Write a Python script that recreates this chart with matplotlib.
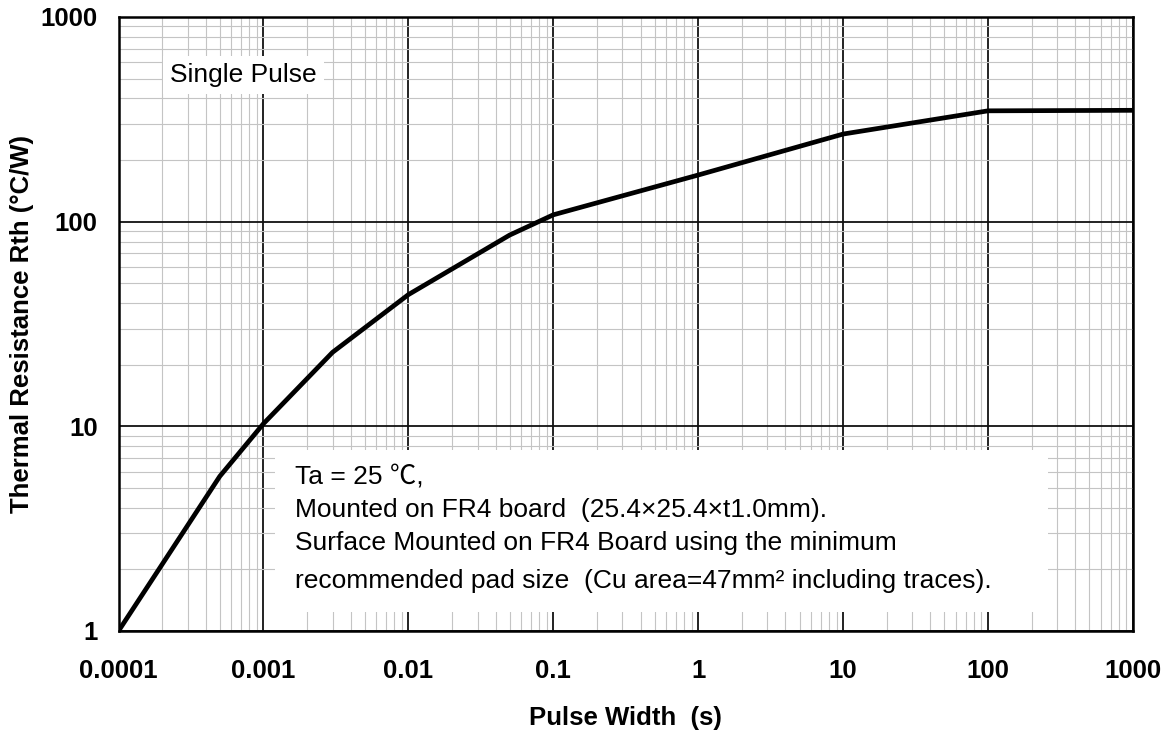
import matplotlib
matplotlib.use("Agg")
import matplotlib.pyplot as plt
from matplotlib.patches import Rectangle
from matplotlib.ticker import LogLocator, NullFormatter

# data
pulse_width = [1e-4, 5e-4, 1e-3, 3e-3, 1e-2, 5e-2, 1e-1, 1.0, 10.0, 100.0, 1000.0]
rth = [1.0, 5.7, 10.3, 23.0, 44.0, 86.0, 108.0, 169.0, 268.0, 348.0, 350.0]

x_ticks = [1e-4, 1e-3, 1e-2, 1e-1, 1, 10, 100, 1000]
x_tick_labels = ["0.0001", "0.001", "0.01", "0.1", "1", "10", "100", "1000"]
y_ticks = [1, 10, 100, 1000]
y_tick_labels = ["1", "10", "100", "1000"]

note_lines = [
    "Ta = 25 \u2103,",
    "Mounted on FR4 board  (25.4\u00d725.4\u00d7t1.0mm).",
    "Surface Mounted on FR4 Board using the minimum",
    "recommended pad size  (Cu area=47mm\u00b2 including traces).",
]

FONT = ["Liberation Sans", "Noto Sans CJK JP", "DejaVu Sans"]
plt.rcParams["font.family"] = FONT

W, H = 1169, 733
fig = plt.figure(figsize=(W / 100, H / 100), dpi=100)
# axes box in pixels: x 118.5..1133, y 17..631
ax = fig.add_axes([118.5 / W, (H - 631) / H, 1014.5 / W, 614 / H])

ax.set_xscale("log")
ax.set_yscale("log")
ax.set_xlim(1e-4, 1e3)
ax.set_ylim(1, 1000)

ax.xaxis.set_minor_locator(LogLocator(base=10, subs=range(2, 10), numticks=20))
ax.yaxis.set_minor_locator(LogLocator(base=10, subs=range(2, 10), numticks=20))
ax.xaxis.set_minor_formatter(NullFormatter())
ax.yaxis.set_minor_formatter(NullFormatter())
ax.set_xticks(x_ticks, x_tick_labels)
ax.set_yticks(y_ticks, y_tick_labels)

ax.set_axisbelow(True)
ax.grid(True, which="minor", color="#c4c4c4", linewidth=0.8)
ax.grid(True, which="major", color="#111111", linewidth=1.3)

ax.tick_params(which="both", length=0)
ax.tick_params(axis="x", pad=20, labelsize=18.5)
ax.tick_params(axis="y", pad=15, labelsize=18.5)
for lab in ax.get_xticklabels() + ax.get_yticklabels():
    lab.set_fontweight("bold")

for sp in ax.spines.values():
    sp.set_linewidth(1.8)
    sp.set_color("black")

ax.plot(pulse_width, rth, color="black", linewidth=3.4, solid_joinstyle="miter", zorder=3)

ax.set_xlabel("Pulse Width  (s)", fontsize=18.5, fontweight="bold")
ax.set_ylabel("Thermal Resistance Rth (\u00b0C/W)", fontsize=18.5, fontweight="bold")
ax.xaxis.set_label_coords(0.5, -0.122)
ax.yaxis.set_label_coords(-0.083, 0.5)

# "Single Pulse" label with a white box hiding the grid
ax.text(0.051, 0.905, "Single Pulse", transform=ax.transAxes, fontsize=19,
        va="center", ha="left", zorder=4,
        bbox=dict(facecolor="white", edgecolor="none", pad=5))

# conditions note
ax.add_patch(Rectangle((0.154, 0.031), 0.762, 0.264, transform=ax.transAxes,
                       facecolor="white", edgecolor="none", zorder=1))
note_y = [0.251, 0.197, 0.143, 0.082]
for txt, yy in zip(note_lines, note_y):
    ax.text(0.174, yy, txt, transform=ax.transAxes, fontsize=19,
            va="center", ha="left", zorder=4)

fig.savefig("out.png", dpi=100)
